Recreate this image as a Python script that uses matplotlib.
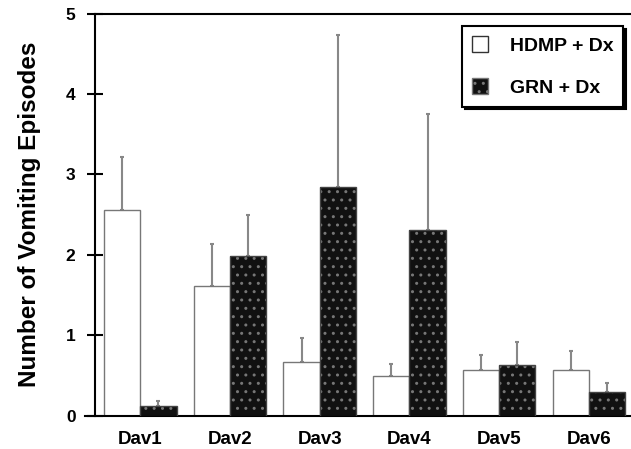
import matplotlib
matplotlib.use("Agg")
import matplotlib.pyplot as plt
import numpy as np
from matplotlib.patches import Patch

days = ["Dav1", "Dav2", "Dav3", "Dav4", "Dav5", "Dav6"]
hdmp = [2.55, 1.61, 0.67, 0.49, 0.56, 0.56]
hdmp_err = [0.67, 0.52, 0.30, 0.15, 0.19, 0.24]
grn = [0.12, 1.98, 2.84, 2.31, 0.63, 0.29]
grn_err = [0.06, 0.52, 1.89, 1.44, 0.28, 0.11]
labels = ["HDMP + Dx", "GRN + Dx"]

plt.rcParams['font.family'] = ['Liberation Sans', 'DejaVu Sans']
plt.rcParams['hatch.linewidth'] = 1.0

fig = plt.figure(figsize=(6.31, 4.49), dpi=100)
ax = fig.add_axes([95/631, (449-415.5)/449, 1-95/631, (415.5-13.5)/449])

x = np.arange(len(days))
w = 0.405
# white bars
ax.bar(x - w/2, hdmp, w, color='white', edgecolor='#777777', linewidth=1.0, zorder=2)
ax.errorbar(x - w/2, hdmp, yerr=[np.zeros(len(hdmp)), hdmp_err], fmt='none',
            ecolor='#888888', elinewidth=1.5, capsize=1.5, capthick=1.5, zorder=1)
# dark speckled bars
ax.bar(x + w/2, grn, w, color='#111111', edgecolor='#777777', hatch='..',
       linewidth=0, zorder=2)
ax.bar(x + w/2, grn, w, color='none', edgecolor='#444444', linewidth=1.0, zorder=3)
ax.errorbar(x + w/2, grn, yerr=[np.zeros(len(grn)), grn_err], fmt='none',
            ecolor='#888888', elinewidth=1.5, capsize=1.5, capthick=1.5, zorder=1)

ax.set_xlim(-0.505, 5.47)
ax.set_ylim(0, 5)
ax.set_yticks([0, 1, 2, 3, 4, 5])
ax.set_yticklabels(['0', '1', '2', '3', '4', '5'], fontsize=12.5, fontweight='bold')
ax.set_xticks(x)
ax.set_xticklabels(days, fontsize=13.5, fontweight='bold')
ax.tick_params(axis='x', length=0, pad=11)
ax.tick_params(axis='y', direction='inout', length=12, width=1.5, pad=8)

ax.spines['right'].set_visible(False)
for s in ['left', 'top', 'bottom']:
    ax.spines[s].set_linewidth(1.5)
ax.spines['bottom'].set_bounds(-0.62, 5.47)
ax.spines['bottom'].set_clip_on(False)

ax.set_ylabel("Number of Vomiting Episodes", fontsize=17.5, fontweight='bold', labelpad=18)

handles = [Patch(facecolor='white', edgecolor='#333333', linewidth=1.0),
           Patch(facecolor='#111111', edgecolor='#777777', hatch='..', linewidth=1.0)]
leg = ax.legend(handles, labels, loc='upper right', bbox_to_anchor=(0.985, 0.968),
                borderaxespad=0, frameon=True, fancybox=False,
                shadow={'color': 'black', 'alpha': 1.0, 'ox': 2, 'oy': -2},
                prop={'weight': 'bold', 'size': 14}, labelspacing=1.2,
                handlelength=0.85, handleheight=0.9, handletextpad=1.1,
                borderpad=0.5)
leg.get_frame().set_edgecolor('black')
leg.get_frame().set_linewidth(1.5)

fig.savefig("out.png", dpi=100)
